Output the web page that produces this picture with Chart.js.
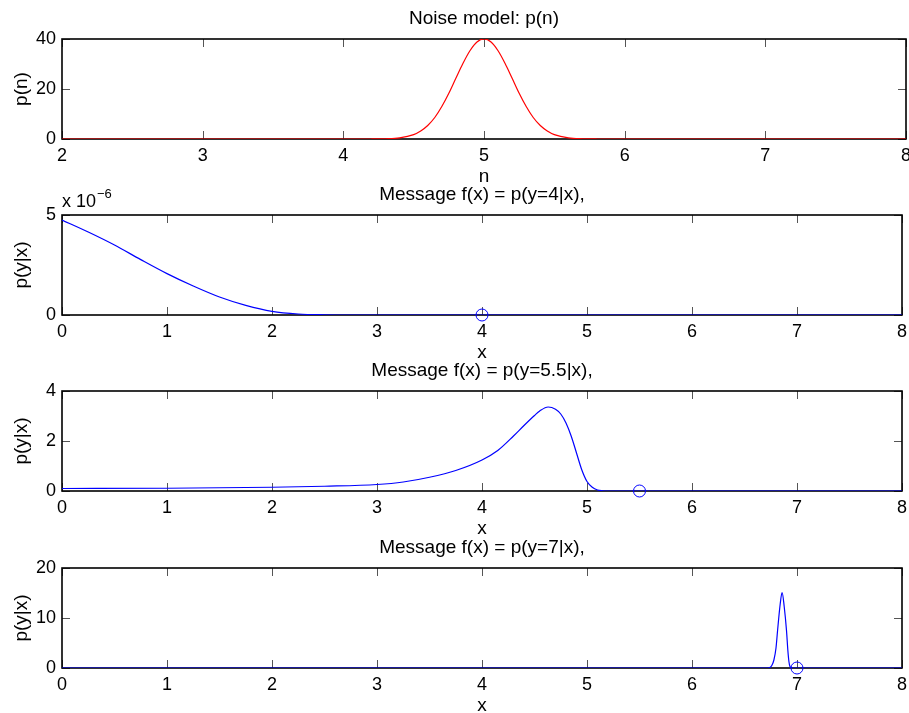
<!DOCTYPE html>
<html>
<head>
<meta charset="utf-8">
<title>Noise model and messages</title>
<script src="https://cdn.jsdelivr.net/npm/chart.js@4.4.1/dist/chart.umd.min.js"></script>
<style>
    html, body { margin: 0; padding: 0; background: #fff; overflow: hidden; }
    #figure { position: relative; width: 909px; height: 713px; }
    .panel { position: absolute; left: 0; width: 909px; height: 190px; }
</style>
</head>
<body>
<div id="figure">
    <div class="panel" style="top:0px"><canvas id="noiseChart" width="909" height="190"></canvas></div>
    <div class="panel" style="top:176px"><canvas id="msg4Chart" width="909" height="190"></canvas></div>
    <div class="panel" style="top:352px"><canvas id="msg55Chart" width="909" height="190"></canvas></div>
    <div class="panel" style="top:529px"><canvas id="msg7Chart" width="909" height="190"></canvas></div>
</div>
<script>
/* ---- data ---- */

// noise model p(n)
const noiseX = [2, 3, 4, 4.2, 4.3, 4.4, 4.5, 4.55, 4.6, 4.65, 4.7, 4.75, 4.8, 4.85, 4.9, 4.95, 5,
    5.05, 5.1, 5.15, 5.2, 5.25, 5.3, 5.35, 5.4, 5.45, 5.5, 5.6, 5.7, 5.8, 6, 7, 8];
const noiseY = [0, 0, 0, 0.01, 0.09, 0.44, 1.76, 3.2, 5.4, 8.6, 13.0, 18.3, 24.3, 30.2, 35.3, 38.8, 40,
    38.8, 35.3, 30.2, 24.3, 18.3, 13.0, 8.6, 5.4, 3.2, 1.76, 0.44, 0.09, 0.01, 0, 0, 0];

// message for y = 4
const msg4X = [0, 0.25, 0.5, 0.75, 1, 1.25, 1.5, 1.75, 2, 2.25, 2.5, 2.75, 3, 4, 5, 6, 7, 8];
const msg4Y = [4.75e-6, 4.15e-6, 3.5e-6, 2.77e-6, 2.07e-6, 1.45e-6, 0.9e-6, 0.48e-6, 0.18e-6,
    0.05e-6, 0.01e-6, 0, 0, 0, 0, 0, 0, 0];

// message for y = 5.5
const msg55X = [0, 1, 2, 2.5, 3, 3.25, 3.5, 3.75, 4, 4.15, 4.3, 4.4, 4.5, 4.55, 4.63, 4.7, 4.75,
    4.8, 4.85, 4.9, 4.95, 5.0, 5.05, 5.1, 5.15, 5.2, 6, 7, 8];
const msg55Y = [0.1, 0.11, 0.15, 0.19, 0.26, 0.36, 0.55, 0.82, 1.24, 1.62, 2.2, 2.62, 3.02, 3.2,
    3.36, 3.27, 3.08, 2.72, 2.19, 1.52, 0.85, 0.38, 0.15, 0.04, 0.01, 0, 0, 0, 0];

// message for y = 7
const msg7X = [0, 6, 6.7, 6.72, 6.74, 6.76, 6.78, 6.8, 6.815, 6.84, 6.858, 6.878, 6.9, 6.913,
    6.923, 6.933, 6.95, 7, 8];
const msg7Y = [0, 0, 0, 0, 0.1, 0.5, 1.6, 4.0, 7.5, 12.8, 15.1, 12.3, 7.5, 3.5, 1.3, 0.3, 0, 0, 0];

// observed y values (circles on the x axis)
const obsY = [4, 5.5, 7];

// tick labels
const noiseXTicks = [2, 3, 4, 5, 6, 7, 8];
const msgXTicks = [0, 1, 2, 3, 4, 5, 6, 7, 8];
const noiseYTicks = [0, 20, 40];
const msg4YTicks = [0, 5e-6];
const msg55YTicks = [0, 2, 4];
const msg7YTicks = [0, 10, 20];

/* ---- look ---- */

const FONT = "'Liberation Sans', Arial, Helvetica, sans-serif";
Chart.defaults.font.family = FONT;
Chart.defaults.color = '#000';

// box round the axes with inward ticks on all four sides, plus optional "x 10^n" note
const matlabAxes = {
    id: 'matlabAxes',
    beforeDatasetsDraw(chart) {
        const { ctx, chartArea: a, scales: { x, y } } = chart;
        const l = Math.round(a.left), r = Math.round(a.right);
        const t = Math.round(a.top), b = Math.round(a.bottom);
        ctx.save();
        ctx.lineWidth = 1;
        ctx.strokeStyle = '#555';
        ctx.beginPath();
        x.ticks.forEach(tk => {
            const px = Math.round(x.getPixelForValue(tk.value)) + 0.5;
            ctx.moveTo(px, t); ctx.lineTo(px, t + 8);
            ctx.moveTo(px, b); ctx.lineTo(px, b - 8);
        });
        y.ticks.forEach(tk => {
            const py = Math.round(y.getPixelForValue(tk.value)) + 0.5;
            ctx.moveTo(l, py); ctx.lineTo(l + 8, py);
            ctx.moveTo(r, py); ctx.lineTo(r - 8, py);
        });
        ctx.stroke();
        ctx.lineWidth = 1.6;
        ctx.strokeStyle = '#000';
        ctx.strokeRect(l, t, r - l, b - t);
        ctx.restore();
    },
    afterDraw(chart, args, opts) {
        if (!opts.exponent) return;
        const { ctx, chartArea: a } = chart;
        ctx.save();
        ctx.fillStyle = '#000';
        ctx.textBaseline = 'alphabetic';
        ctx.font = '18px ' + FONT;
        ctx.fillText('x 10', a.left, a.top - 8);
        const w = ctx.measureText('x 10').width;
        ctx.font = '13px ' + FONT;
        ctx.fillText(opts.exponent, a.left + w + 1, a.top - 17);
        ctx.restore();
    }
};

function pairs(xs, ys) {
    return xs.map((v, i) => ({ x: v, y: ys[i] }));
}

function makePanel(id, p) {
    const datasets = [{
        data: pairs(p.xs, p.ys),
        borderColor: p.color, borderWidth: 1.2,
        pointRadius: 0, cubicInterpolationMode: 'monotone', fill: false
    }];
    if (p.obs !== undefined) {
        datasets.push({
            data: [{ x: p.obs, y: 0 }],
            showLine: false, clip: false,
            pointRadius: 6, pointBorderWidth: 1,
            pointBorderColor: '#0000ff', pointBackgroundColor: 'rgba(0,0,0,0)'
        });
    }
    return new Chart(document.getElementById(id), {
        type: 'line',
        data: { datasets },
        options: {
            responsive: false, animation: false,
            layout: { padding: { left: 0, top: 0, bottom: 0, right: 3 } },
            plugins: {
                legend: { display: false },
                tooltip: { enabled: false },
                title: {
                    display: true, text: p.title, color: '#000', fullSize: false,
                    font: { size: 19, weight: 'normal' },
                    padding: { top: 7.1, bottom: 9.1 }
                },
                matlabAxes: { exponent: p.exponent }
            },
            scales: {
                x: {
                    type: 'linear', min: p.xTicks[0], max: p.xTicks[p.xTicks.length - 1],
                    grid: { display: false, drawTicks: false }, border: { display: false },
                    ticks: { font: { size: 18 }, padding: 6, maxRotation: 0 },
                    afterBuildTicks: s => { s.ticks = p.xTicks.map(v => ({ value: v })); },
                    afterFit: s => { s.height = 51; s.paddingLeft = 0; s.paddingRight = 0; },
                    title: { display: true, text: p.xLabel, font: { size: 19 }, padding: { top: 0, bottom: 2.3 } }
                },
                y: {
                    type: 'linear', min: p.yTicks[0], max: p.yTicks[p.yTicks.length - 1],
                    grid: { display: false, drawTicks: false }, border: { display: false },
                    ticks: {
                        font: { size: 18 }, padding: 6,
                        callback: v => p.exponent ? String(Math.round(v * 1e6)) : String(v)
                    },
                    afterBuildTicks: s => { s.ticks = p.yTicks.map(v => ({ value: v })); },
                    afterFit: s => { s.width = 62; },
                    title: { display: true, text: p.yLabel, font: { size: 19 }, padding: { top: 10.6, bottom: 0 } }
                }
            }
        },
        plugins: [matlabAxes]
    });
}

makePanel('noiseChart', {
    title: 'Noise model: p(n)', xLabel: 'n', yLabel: 'p(n)',
    xs: noiseX, ys: noiseY, color: '#ff0000',
    xTicks: noiseXTicks, yTicks: noiseYTicks
});
makePanel('msg4Chart', {
    title: 'Message f(x) = p(y=4|x),', xLabel: 'x', yLabel: 'p(y|x)',
    xs: msg4X, ys: msg4Y, color: '#0000ff', obs: obsY[0],
    xTicks: msgXTicks, yTicks: msg4YTicks, exponent: '\u22126'
});
makePanel('msg55Chart', {
    title: 'Message f(x) = p(y=5.5|x),', xLabel: 'x', yLabel: 'p(y|x)',
    xs: msg55X, ys: msg55Y, color: '#0000ff', obs: obsY[1],
    xTicks: msgXTicks, yTicks: msg55YTicks
});
makePanel('msg7Chart', {
    title: 'Message f(x) = p(y=7|x),', xLabel: 'x', yLabel: 'p(y|x)',
    xs: msg7X, ys: msg7Y, color: '#0000ff', obs: obsY[2],
    xTicks: msgXTicks, yTicks: msg7YTicks
});
</script>
</body>
</html>
